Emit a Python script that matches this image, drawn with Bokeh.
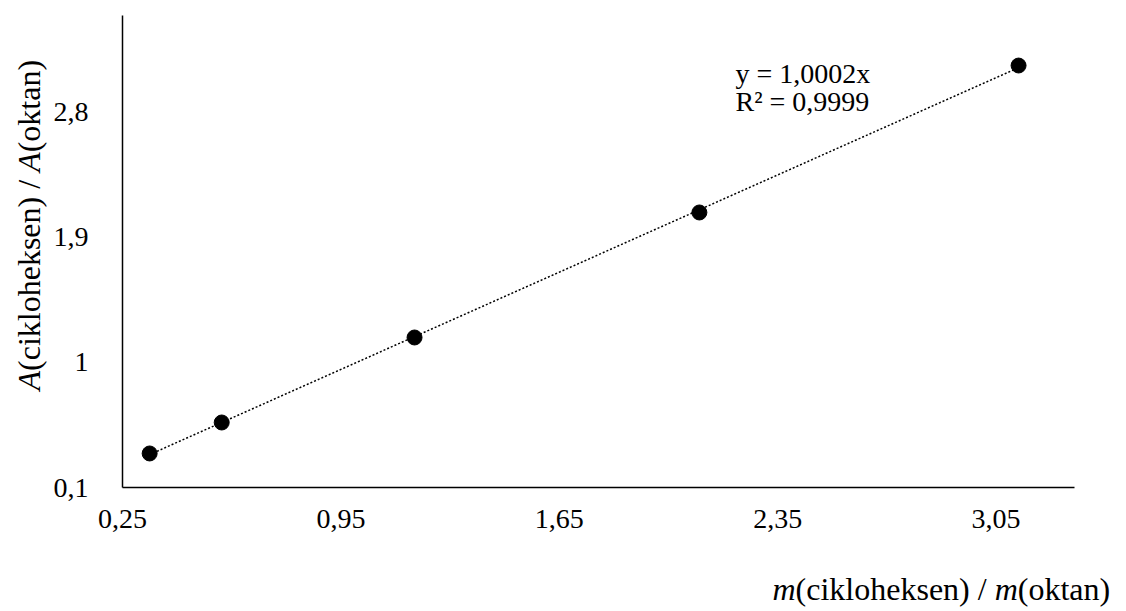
import math
from bokeh.plotting import figure
from bokeh.models import Label, FixedTicker, Range1d, ColumnDataSource
from bokeh.embed import file_html
from bokeh.resources import INLINE

# ---- data ----
x_vals = [0.337, 0.568, 1.186, 2.099, 3.122]
y_vals = [0.345, 0.568, 1.180, 2.080, 3.138]
slope = 1.0002
r2_text = "R² = 0,9999"
eq_text = "y = 1,0002x"
x_ticks = [0.25, 0.95, 1.65, 2.35, 3.05]
x_tick_labels = ["0,25", "0,95", "1,65", "2,35", "3,05"]
y_ticks = [0.1, 1.0, 1.9, 2.8]
y_tick_labels = ["0,1", "1", "1,9", "2,8"]
x_title_parts = [("m", "italic"), ("(cikloheksen) / ", "normal"), ("m", "italic"), ("(oktan)", "normal")]
y_title_parts = [("A", "italic"), ("(cikloheksen) / ", "normal"), ("A", "italic"), ("(oktan)", "normal")]

# ---- layout / style ----
FONT = "Liberation Serif"
FS = 28
TITLE_FS = 32
W, H = 1120, 608
X_MIN, X_MAX = 0.25, 3.30       # visible axis extent
Y_MIN, Y_MAX = 0.1, 3.5
AX_LEFT, AX_BOTTOM = 122, 487    # pixel position of axis origin
PX_X, PX_Y = 312.0, 138.9        # pixels per unit

REG = {"(": 333, ")": 333, "c": 444, "i": 278, "k": 500, "l": 278, "o": 500, "h": 500,
       "e": 444, "s": 389, "n": 500, " ": 250, "/": 278, "t": 278, "a": 444, "m": 778, "A": 722}
ITA = {"m": 722, "A": 611}


def text_width(s, style, size):
    table = ITA if style == "italic" else REG
    return sum(table.get(ch, 500) for ch in s) / 1000.0 * size


x_range = Range1d(X_MIN - AX_LEFT / PX_X, X_MIN + (W - AX_LEFT) / PX_X)
y_range = Range1d(Y_MIN - (H - AX_BOTTOM) / PX_Y, Y_MIN + AX_BOTTOM / PX_Y)

p = figure(width=W, height=H, output_backend="svg", toolbar_location=None,
           x_range=x_range, y_range=y_range,
           min_border=0, min_border_left=0, min_border_right=0, min_border_top=0, min_border_bottom=0)
p.outline_line_color = None
p.xgrid.grid_line_color = None
p.ygrid.grid_line_color = None
p.background_fill_color = "white"
p.border_fill_color = "white"

for ax in (p.xaxis, p.yaxis):
    ax.axis_line_color = "#000000"
    ax.axis_line_width = 1.5
    ax.major_tick_line_color = None
    ax.minor_tick_line_color = None
    ax.major_tick_out = 0
    ax.major_tick_in = 0
    ax.minor_tick_out = 0
    ax.minor_tick_in = 0
    ax.major_label_text_font = FONT
    ax.major_label_text_font_size = f"{FS}px"
    ax.major_label_text_color = "#000000"

p.xaxis.fixed_location = Y_MIN
p.xaxis.bounds = (X_MIN, X_MAX)
p.xaxis.ticker = FixedTicker(ticks=x_ticks)
p.xaxis.major_label_overrides = {t: l for t, l in zip(x_ticks, x_tick_labels)}
p.xaxis.major_label_standoff = 22

p.yaxis.fixed_location = X_MIN
p.yaxis.bounds = (Y_MIN, Y_MAX)
p.yaxis.ticker = FixedTicker(ticks=y_ticks)
p.yaxis.major_label_overrides = {t: l for t, l in zip(y_ticks, y_tick_labels)}
p.yaxis.major_label_standoff = 34

# trendline (through origin) spanning the data
x0, x1 = min(x_vals), max(x_vals)
p.line([x0, x1], [slope * x0, slope * x1], line_color="#000000", line_width=1.5, line_dash="2 2")

src = ColumnDataSource(dict(x=x_vals, y=y_vals))
p.scatter("x", "y", source=src, size=15, fill_color="#000000", line_color="#000000")

# equation labels (screen units: x from left, y from bottom)
for txt, by in ((eq_text, 73), (r2_text, 101)):
    p.add_layout(Label(x=735, y=H - by, x_units="screen", y_units="screen", text=txt,
                       text_font=FONT, text_font_size=f"{FS}px", text_color="#000000",
                       text_align="left", text_baseline="alphabetic"))

# x axis title (mixed italic)
cx = 772
for s, st in x_title_parts:
    p.add_layout(Label(x=cx, y=H - 588, x_units="screen", y_units="screen", text=s,
                       text_font=FONT, text_font_style=st, text_font_size=f"{TITLE_FS}px",
                       text_color="#000000", text_align="left", text_baseline="middle"))
    cx += text_width(s, st, TITLE_FS)

# y axis title (rotated, reads bottom to top)
cy = H - 390
for s, st in y_title_parts:
    p.add_layout(Label(x=28, y=cy, x_units="screen", y_units="screen", text=s, angle=math.pi / 2,
                       text_font=FONT, text_font_style=st, text_font_size=f"{TITLE_FS}px",
                       text_color="#000000", text_align="left", text_baseline="middle"))
    cy += text_width(s, st, TITLE_FS)

open("out.html", "w").write(file_html(p, INLINE))
